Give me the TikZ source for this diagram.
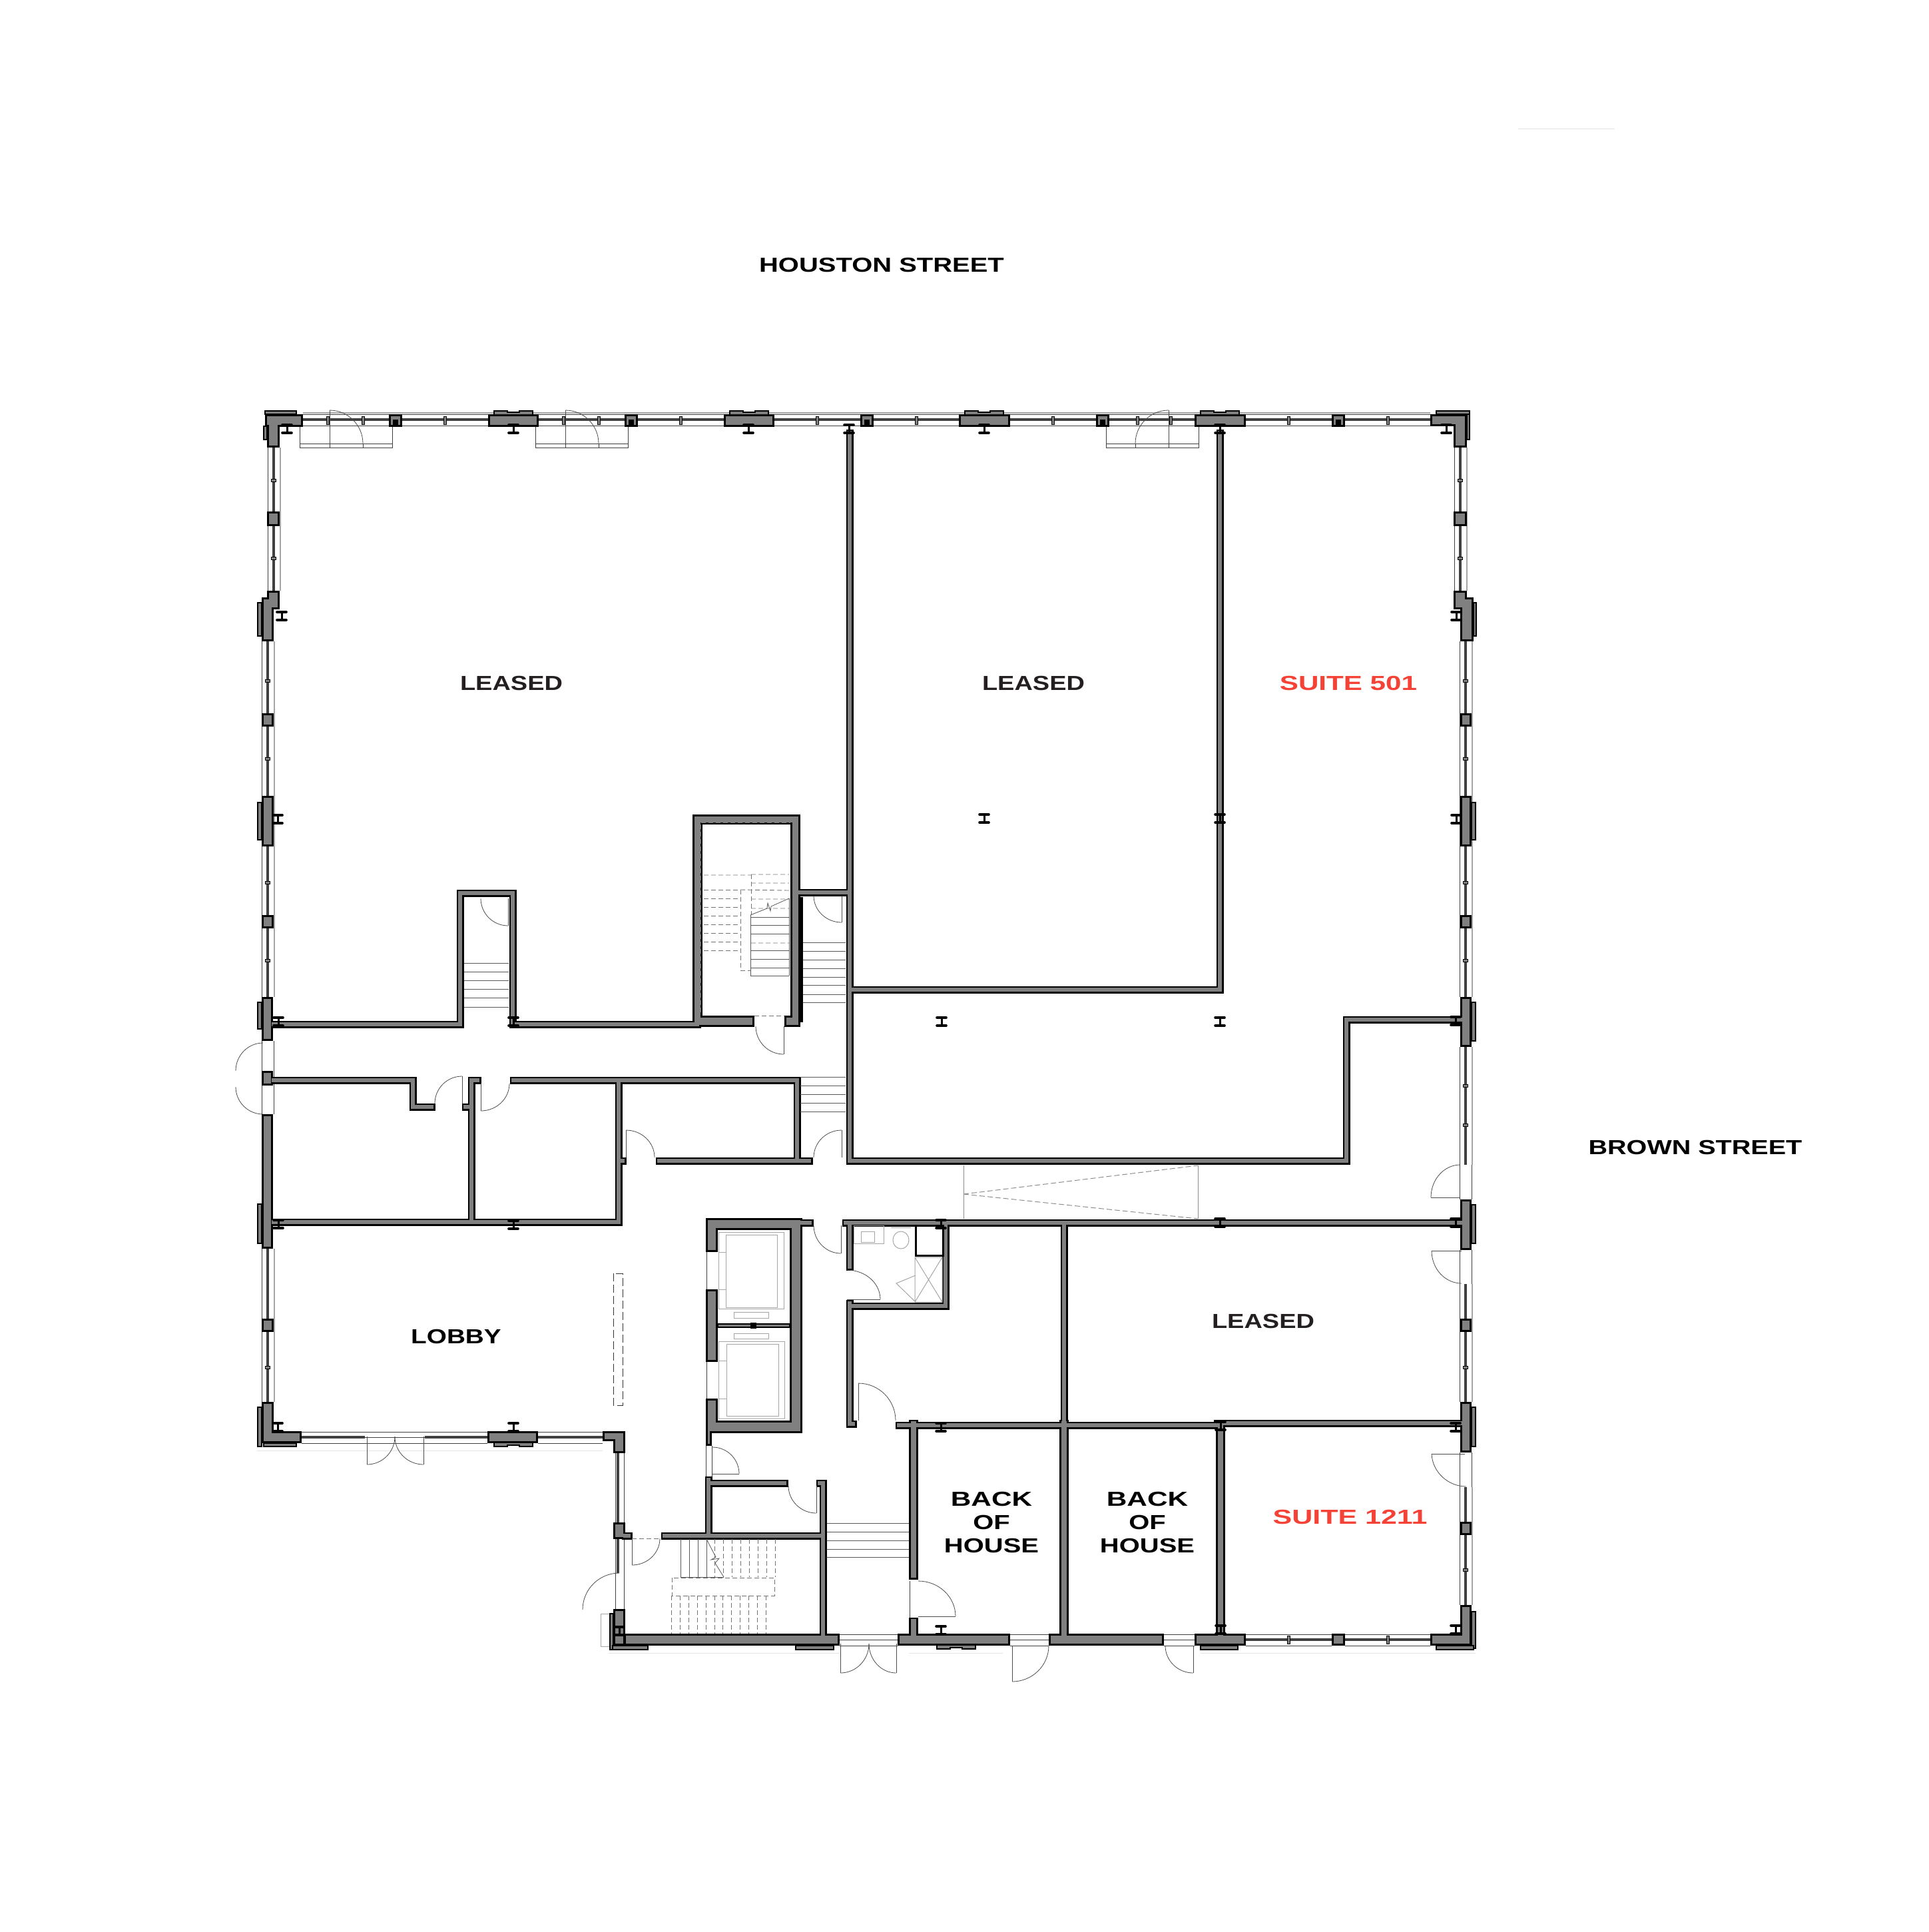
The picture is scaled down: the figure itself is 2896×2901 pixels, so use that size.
\documentclass[tikz,border=0pt]{standalone}
\usepackage{fontspec}
\newfontfamily\planfont[FakeStretch=1.31]{Liberation Sans Bold}
\newfontfamily\suitefont[FakeStretch=1.41]{Liberation Sans Bold}
\definecolor{wallgray}{HTML}{808080}
\definecolor{suitered}{HTML}{F44336}
\definecolor{leasedink}{HTML}{231F20}
\tikzset{
	label/.style={font=\planfont\fontsize{30.5}{35}\selectfont,inner sep=0pt,align=center},
	suite/.style={font=\suitefont\fontsize{30.5}{35}\selectfont,inner sep=0pt,text=suitered},
	leaf/.style={draw=black!70,line width=0.8pt},
	hidden/.style={draw=black!55,line width=0.9pt,dash pattern=on 7pt off 4pt},
	detail/.style={draw=black!35,line width=1pt},
	faint/.style={draw=black!10,line width=1pt},
	glass/.style={draw=black!75,line width=1pt},
	tread/.style={draw=black!65,line width=0.8pt},
	flange/.style={line width=3.6pt,line cap=round},
	capbox/.style={draw=black,fill=wallgray,line width=2pt},
	mull/.style={draw=black,fill=wallgray,line width=1pt}
}
% door: hinge, start of the swing, end of the leaf
\newcommand{\swingarc}[6]{\draw[leaf] (#3,#4) .. controls ({#3+.552*(#5-#1)},{#4+.552*(#6-#2)}) and ({#5+.552*(#3-#1)},{#6+.552*(#4-#2)}) .. (#5,#6);}
\newcommand{\swing}[6]{\draw[leaf] (#1,#2)--(#5,#6); \swingarc{#1}{#2}{#3}{#4}{#5}{#6}}
\newcommand{\ibeam}[2]{\draw[flange] (#1-7,#2-6)--(#1+7,#2-6) (#1-7,#2+6)--(#1+7,#2+6); \draw[line width=3pt] (#1,#2-6)--(#1,#2+6);}
% glazing runs: thin lines either side of a dark bar
\newcommand{\runh}[3]{\draw[glass] (#1,#3-8)--(#2,#3-8) (#1,#3+9)--(#2,#3+9); \fill[black!75] (#1,#3-2) rectangle (#2,#3+2);}
\newcommand{\runv}[3]{\draw[glass] (#1-9,#2)--(#1-9,#3) (#1+9,#2)--(#1+9,#3); \fill[black!75] (#1-2,#2) rectangle (#1+2,#3); \draw[detail,line width=2pt] (#1+9.5,#2)--(#1+9.5,#3);}
\newcommand{\gaph}[3]{\draw[glass] (#1,#3-8)--(#2,#3-8) (#1,#3)--(#2,#3) (#1,#3+9)--(#2,#3+9);}
\newcommand{\gapv}[3]{\draw[glass] (#1-9,#2)--(#1-9,#3) (#1+9,#2)--(#1+9,#3);}
% big column cap, #3 is the side it stands out to (-1 up, 1 down)
\newcommand{\colcap}[3]{\draw[capbox] (#1-29,#2)--(#1-29,#2+#3*5)--(#1-9,#2+#3*5)--(#1-9,#2+#3*3)--(#1+9,#2+#3*3)--(#1+9,#2+#3*5)--(#1+29,#2+#3*5)--(#1+29,#2);}
\def\thinwalls{411/1538/691/1538,691/1341/691/1538,691/1341/770/1341,770/1341/770/1538,770/1538/1047/1538,
	1195/1340/1276/1340,1276/650/1276/1743,1276/1486/1832/1486,1832/650/1832/1486,
	1276/1743/2022/1743,2022/1531/2022/1743,2022/1531/2193/1531,
	411/1622/620/1622,620/1622/620/1662,620/1662/648/1662,
	708/1622/708/1835,708/1622/717/1622,699/1662/708/1662,
	771/1622/1197/1622,929/1622/929/1835,1197/1622/1197/1743,990/1743/1215/1743,929/1743/935/1743,
	411/1835/929/1835,1205/1836/1216/1836,
	1270/1836/2193/1836,1276/1836/1276/1902,1276/1957/1276/2138,1276/1961/1420/1961,1420/1836/1420/1961,1276/2138/1281/2138,
	1350/2140/1828/2140,1828/2137/2193/2137,1598/1836/1598/2137,
	1064/2222/1064/2306,1064/2227/1178/2227,998/2306/1236/2306,1236/2227/1236/2454,1231/2227/1236/2227,939/2306/944/2306}
\def\thickwalls{1372/2137/1372/2366,1372/2434/1372/2454,1598/2137/1598/2454,1833/2137/1833/2454}
\def\solids{1040/1223/1055/1542,1040/1223/1202/1238,1187/1223/1202/1542,1040/1525/1133/1542,1178/1525/1202/1542,
	1060/1829/1205/1847,1186/1829/1205/2152,1060/2133/1205/2152,1060/1829/1078/1880,1060/1936/1078/2045,1060/2100/1078/2144,1060/2144/1069/2171,
	398/622/455/641,401/622/420/672,
	2148/622/2203/640,2183/622/2203/672,
	733/622/809/641,1087/622/1163/641,1440/622/1517/641,1794/622/1871/641,
	584/622/604/641,938/622/958/641,1292/622/1312/641,1646/622/1666/641,2000/622/2020/641,
	401/768/420/790,2183/768/2203/790,
	401/887/420/915,393/897/411/963,
	2183/887/2203/915,2193/897/2213/963,
	393/1071/411/1091,393/1374/411/1394,2193/1071/2210/1091,2193/1374/2210/1394,
	393/1195/411/1271,2193/1195/2210/1271,
	393/1497/410/1563,393/1608/410/1630,393/1673/410/1875,
	2193/1497/2210/1572,2193/1801/2210/1877,2193/2105/2210/2181,
	393/1980/411/2000,393/2105/411/2167,393/2149/453/2167,
	732/2149/808/2167,
	905/2149/939/2164,921/2149/939/2182,921/2286/939/2311,921/2416/939/2471,
	937/2453/1261/2471,1348/2453/1517/2471,
	1575/2453/1748/2471,1794/2453/1871/2471,2000/2453/2020/2471,
	2148/2453/2210/2471,2193/2410/2210/2471,
	2193/1980/2210/2000,2193/2285/2210/2305}
\def\sidecaps{396/640/401/660,2203/622/2207/660,387/905/393/955,2213/905/2217/955,387/1205/393/1261,2210/1205/2216/1261,
	387/1505/393/1545,387/1808/393/1867,2210/1505/2216/1563,2210/1809/2216/1867,2210/2113/2216/2172,
	387/2113/393/2172,916/2423/921/2477,2210/2420/2216/2475,
	398/617/445/622,2157/617/2207/622,396/2167/445/2172,920/2471/973/2477,1195/2471/1252/2477,1803/2471/1859/2477,2157/2471/2213/2477}
\begin{document}
\begin{tikzpicture}[x=1pt,y=-1pt]
	\useasboundingbox (0,0) rectangle (2896,2901);
	\draw[faint] (2280,193)--(2425,193);
	\draw[faint] (914,2482)--(1261,2482) (1365,2482)--(1506,2482) (1803,2482)--(2216,2482) (386,2178)--(905,2178);
	% facade
	\draw[detail,line width=2pt] (455,619.5)--(2148,619.5);
	\runh{455}{2148}{630}
	\runv{411}{672}{887}
	\runv{2193}{672}{887}
	\runv{402}{963}{1497}
	\runv{2201}{963}{1497}
	\runv{402}{1875}{2105}
	\runv{2201}{1572}{1749}
	\runv{2201}{1928}{2105}
	\runv{2201}{2233}{2410}
	\runh{453}{548}{2158}
	\runh{638}{732}{2158}
	\runh{808}{905}{2158}
	\runh{1871}{2000}{2462}
	\runh{2020}{2148}{2462}
	\gaph{548}{638}{2158}
	\gaph{1261}{1348}{2462}
	\gaph{1517}{1575}{2462}
	\gaph{1748}{1794}{2462}
	\gapv{402}{1563}{1673}
	\gapv{2201}{1749}{1801}
	\gapv{2201}{1877}{1928}
	\gapv{2201}{2181}{2233}
	\draw[glass] (924,2182)--(924,2416) (937,2182)--(937,2416);
	\fill[black!75] (926,2182) rectangle (930,2362);
	\draw[detail] (902,2423) rectangle (916,2472);
	\fill[white] (924,2438) rectangle (938,2470);
	\draw[glass] (924,2438) rectangle (938,2470);
	% mullions
	\foreach \mx in {492,545,668,846,899,1022,1227,1376,1581,1708,1758,1935,2084}
	{\draw[mull] (\mx-2,625) rectangle (\mx+2,637);}
	\foreach \mx in {1935,2084}
	{\draw[mull] (\mx-2,2456) rectangle (\mx+2,2468);}
	\foreach \my in {721,838}
	{\draw[mull] (407.5,\my-2) rectangle (414.5,\my+2);
	\draw[mull] (2189.5,\my-2) rectangle (2196.5,\my+2);}
	\foreach \my in {1022,1139,1325,1442,2053}
	{\draw[mull] (398.5,\my-2) rectangle (405.5,\my+2);}
	\foreach \my in {1022,1139,1325,1442,1630,1689,2053,2357}
	{\draw[mull] (2197.5,\my-2) rectangle (2204.5,\my+2);}
	% window bays
	\foreach \bx/\ba/\bb in {450/495/545,804/849/899,1661/1705/1755}
	{\draw[glass,line width=0.8pt] (\bx,641)--(\bx,672)--(\bx+139,672)--(\bx+139,641) (\bx,666)--(\bx+139,666) (\ba,666)--(\ba,672) (\bb,666)--(\bb,672);}
	% walls
	\foreach \xa/\ya/\xb/\yb in \thinwalls {\fill[black] (\xa-5.5,\ya-5.5) rectangle (\xb+5.5,\yb+5.5);}
	\foreach \xa/\ya/\xb/\yb in \thickwalls {\fill[black] (\xa-7,\ya-5.5) rectangle (\xb+7,\yb+5.5);}
	\foreach \xa/\ya/\xb/\yb in \solids {\fill[black] (\xa,\ya) rectangle (\xb,\yb);}
	\foreach \xa/\ya/\xb/\yb in \thinwalls {\fill[wallgray] (\xa-2.7,\ya-2.7) rectangle (\xb+2.7,\yb+2.7);}
	\foreach \xa/\ya/\xb/\yb in \thickwalls {\fill[wallgray] (\xa-3.8,\ya-2.7) rectangle (\xb+3.8,\yb+2.7);}
	\foreach \xa/\ya/\xb/\yb in \solids {\fill[wallgray] (\xa+2.8,\ya+2.8) rectangle (\xb-2.8,\yb-2.8);}
	\foreach \xa/\ya/\xb/\yb in \sidecaps {\draw[capbox] (\xa,\ya) rectangle (\xb,\yb);}
	\foreach \cx in {771,1125,1478,1832} {\colcap{\cx}{622}{-1}}
	\colcap{771}{2167}{1}
	\colcap{1436}{2471}{1}
	\fill[black] (1202,1347) rectangle (1206,1535);
	\draw[hidden] (1052,1520)--(1052,1235)--(1187,1235);
	\draw[line width=3pt] (1375,1840) rectangle (1416,1885);
	\draw[black,line width=1.5pt,fill=wallgray] (1078,1988) rectangle (1186,1993);
	\fill[black] (1127,1986) rectangle (1136,1995);
	\foreach \cx in {594,948,1302,1656,2010}
	{\fill[black] (\cx-4,630) rectangle (\cx+4,639);}
	% steel
	\ibeam{431}{644}
	\ibeam{771}{644}
	\ibeam{1124}{644}
	\ibeam{1275}{644}
	\ibeam{1478}{644}
	\ibeam{1832}{644}
	\ibeam{2172}{644}
	\ibeam{423}{925}
	\ibeam{2187}{925}
	\ibeam{417}{1230}
	\ibeam{2187}{1230}
	\ibeam{1478}{1229}
	\ibeam{1832}{1229}
	\ibeam{418}{1534}
	\ibeam{771}{1534}
	\ibeam{1414}{1534}
	\ibeam{1832}{1534}
	\ibeam{2186}{1533}
	\ibeam{418}{1838}
	\ibeam{771}{1839}
	\ibeam{1413}{1838}
	\ibeam{1832}{1836}
	\ibeam{2186}{1836}
	\ibeam{417}{2143}
	\ibeam{771}{2143}
	\ibeam{1413}{2143}
	\ibeam{1833}{2141}
	\ibeam{2186}{2143}
	\ibeam{930}{2449}
	\ibeam{1413}{2448}
	\ibeam{1833}{2447}
	\ibeam{2186}{2447}
	% doors
	\swing{495}{666}{545}{666}{495}{616}
	\swing{849}{666}{899}{666}{849}{616}
	\swing{1755}{666}{1705}{666}{1755}{616}
	\swing{763}{1349}{722}{1349}{763}{1390}
	\swing{1264}{1345}{1222}{1345}{1264}{1385}
	\swing{1177}{1541}{1135}{1541}{1177}{1583}
	\swing{1264}{1738}{1222}{1738}{1264}{1697}
	\swing{940}{1738}{983}{1738}{940}{1697}
	\swingarc{395}{1608}{395}{1566}{354}{1608}
	\swingarc{395}{1632}{395}{1673}{354}{1632}
	\swing{694}{1657}{653}{1657}{694}{1616}
	\swing{722}{1627}{765}{1627}{722}{1668}
	\swing{1263}{1840}{1222}{1840}{1263}{1882}
	\swing{1272}{1951}{1272}{1907}{1322}{1951}
	\swing{1289}{2133}{1345}{2133}{1289}{2077}
	\swing{1070}{2213}{1070}{2173}{1110}{2213}
	\swing{1226}{2231}{1184}{2231}{1226}{2272}
	\swing{949}{2310}{991}{2310}{949}{2350}
	\swingarc{930}{2417}{930}{2362}{875}{2417}
	\swing{1379}{2427}{1379}{2374}{1435}{2427}
	\swing{1262}{2468}{1305}{2468}{1262}{2512}
	\swing{1346}{2468}{1305}{2468}{1346}{2512}
	\swing{1520}{2471}{1575}{2471}{1520}{2525}
	\swing{1792}{2471}{1750}{2471}{1792}{2512}
	\swing{551}{2157}{593}{2157}{551}{2199}
	\swing{636}{2157}{593}{2157}{636}{2199}
	\swing{2193}{1798}{2193}{1749}{2149}{1798}
	\swing{2195}{1878}{2195}{1927}{2150}{1878}
	\swing{2200}{2183}{2202}{2232}{2150}{2183}
	\draw[glass,line width=0.8pt] (1061,1880)--(1061,1936) (1061,2045)--(1061,2100) (1060,2171)--(1060,2217) (1069,2171)--(1069,2217) (1366,2374)--(1366,2429);
	\draw[hidden] (1133,1525)--(1178,1525) (949,2310)--(991,2310);
	% corridor steps
	\foreach \ty in {1415,1428,1441,1454,1467,1479,1493,1505}
	{\draw[tread] (1206,\ty)--(1270,\ty);}
	\foreach \ty in {1446,1459,1472,1485,1498,1512}
	{\draw[tread] (697,\ty)--(764,\ty);}
	\foreach \ty in {1617,1630,1643,1656,1669}
	{\draw[tread] (1202,\ty)--(1270,\ty);}
	\foreach \ty in {2287,2300,2313,2326,2338}
	{\draw[tread] (1242,\ty)--(1365,\ty);}
	% core stair
	\foreach \ty in {1336,1349,1362,1375,1388,1401,1414,1427}
	{\draw[hidden] (1057,\ty)--(1112,\ty);}
	\draw[hidden] (1057,1314)--(1128,1314) (1128,1313)--(1185,1313)--(1185,1313) (1128,1326)--(1185,1326) (1112,1336)--(1185,1337) (1128,1350)--(1185,1350) (1128,1364)--(1185,1364) (1128,1416)--(1185,1416);
	\draw[hidden] (1112,1336)--(1112,1457)--(1127,1457) (1128,1313)--(1128,1374);
	\foreach \ty in {1377,1389,1402,1427,1440,1453,1465}
	{\draw[tread] (1127,\ty)--(1185,\ty);}
	\draw[tread] (1127,1374)--(1127,1465) (1185,1349)--(1185,1465);
	\draw[tread] (1127,1374)--(1152,1364)--(1153,1356)--(1157,1368)--(1158,1361)--(1185,1349);
	% south stair
	\foreach \sx in {1022,1035,1048,1061}
	{\draw[tread] (\sx,2311)--(\sx,2368);}
	\draw[tread] (1022,2368)--(1087,2368);
	\draw[tread] (1061,2311)--(1075,2338)--(1068,2342)--(1080,2340)--(1074,2347)--(1087,2368);
	\foreach \sx in {1073,1086,1099,1112,1125,1138,1151,1164}
	{\draw[hidden] (\sx,2311)--(\sx,2368);}
	\draw[hidden] (1009,2369) rectangle (1163,2396);
	\foreach \sx in {1008,1021,1034,1047,1060,1073,1085,1098,1111,1124,1137,1150}
	{\draw[hidden] (\sx,2396)--(\sx,2453);}
	% lift cars
	\draw[detail] (1079,1850) rectangle (1177,1965) (1090,1854) rectangle (1167,1963);
	\draw[detail] (1079,2014) rectangle (1178,2130) (1091,2018) rectangle (1169,2126);
	\draw[detail] (1102,1970) rectangle (1154,1979) (1102,2002) rectangle (1154,2010);
	\draw[detail] (1079,1880) rectangle (1090,1936) (1079,2043) rectangle (1091,2100);
	% bath
	\draw[detail] (1282,1840) rectangle (1327,1867) (1293,1849) rectangle (1313,1865);
	\draw[detail] (1353,1862) ellipse (12 and 13);
	\draw[detail] (1338,1843)--(1368,1843);
	\draw[detail] (1374,1888) rectangle (1415,1955) (1374,1888)--(1415,1955) (1415,1888)--(1374,1955);
	\draw[detail] (1375,1915)--(1346,1927)--(1375,1955);
	% lobby glass and ramp
	\draw[hidden,draw=black!80,dash pattern=on 12pt off 5pt] (921,1912) rectangle (935,2110);
	\draw[detail,draw=black!45] (1447,1750)--(1447,1830) (1799,1750)--(1799,1830);
	\draw[detail,draw=black!45,dash pattern=on 8pt off 4pt] (1447,1793)--(1799,1750) (1447,1793)--(1799,1830);
	% names
	\node[label] (houston) at (1324,397.5) {HOUSTON STREET};
	\node[label] (brown) at (2546,1723) {\scalebox{.99}[1]{BROWN STREET}};
	\node[label,text=leasedink] (leasedw) at (768,1025.5) {\scalebox{.95}[1]{LEASED}};
	\node[label,text=leasedink] (leasedm) at (1552,1025.5) {\scalebox{.95}[1]{LEASED}};
	\node[suite] (suitea) at (2025,1025.5) {\scalebox{.98}[1]{SUITE 501}};
	\node[label] (lobby) at (685,2006.5) {\scalebox{.97}[1]{LOBBY}};
	\node[label,text=leasedink] (leasede) at (1897,1983.5) {\scalebox{.95}[1]{LEASED}};
	\node[label] (backa) at (1489,2285.5) {\scalebox{1.06}[1]{BACK}\\OF\\HOUSE};
	\node[label] (backb) at (1723,2285.5) {\scalebox{1.06}[1]{BACK}\\OF\\HOUSE};
	\node[suite] (suiteb) at (2027.5,2278) {SUITE 1211};
\end{tikzpicture}
\end{document}
